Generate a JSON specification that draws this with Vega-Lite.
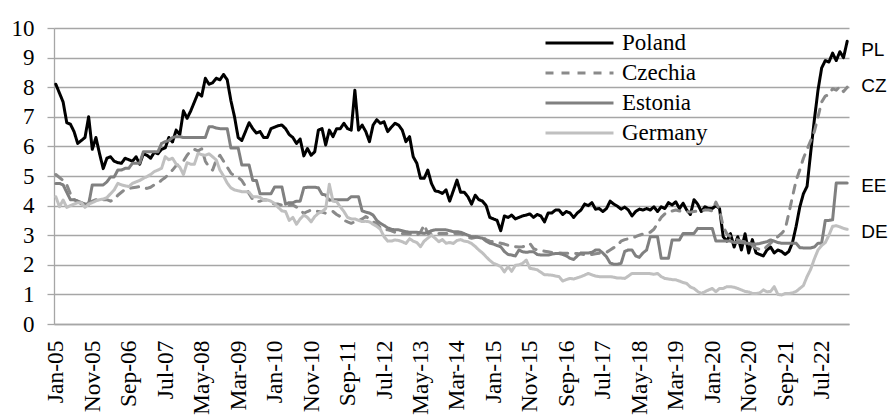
{
  "$schema": "https://vega.github.io/schema/vega-lite/v6.json",
  "width": 795,
  "height": 296,
  "autosize": {"type": "none"},
  "padding": {"left": 54, "top": 28, "right": 44, "bottom": 91},
  "background": "white",
  "config": {"view": {"stroke": null}, "font": "Liberation Serif"},
  "datasets": {
    "series": [
      {"d":"2005-01","Poland":8.1,"Czechia":5.05,"Estonia":4.75,"Germany":4.3},
      {"d":"2005-02","Poland":7.8,"Czechia":4.95,"Estonia":4.75,"Germany":3.96},
      {"d":"2005-03","Poland":7.5,"Czechia":4.85,"Estonia":4.7,"Germany":4.19},
      {"d":"2005-04","Poland":6.8,"Czechia":4.7,"Estonia":4.45,"Germany":3.94},
      {"d":"2005-05","Poland":6.75,"Czechia":4.4,"Estonia":4.2,"Germany":4.0},
      {"d":"2005-06","Poland":6.5,"Czechia":4.2,"Estonia":4.2,"Germany":4.05},
      {"d":"2005-07","Poland":6.1,"Czechia":4.15,"Estonia":4.15,"Germany":4.1},
      {"d":"2005-08","Poland":6.2,"Czechia":4.05,"Estonia":4.1,"Germany":4.1},
      {"d":"2005-09","Poland":6.3,"Czechia":4.05,"Estonia":4.05,"Germany":3.94},
      {"d":"2005-10","Poland":7.0,"Czechia":4.1,"Estonia":4.05,"Germany":4.05},
      {"d":"2005-11","Poland":5.9,"Czechia":4.15,"Estonia":4.7,"Germany":4.1},
      {"d":"2005-12","Poland":6.3,"Czechia":4.2,"Estonia":4.7,"Germany":4.16},
      {"d":"2006-01","Poland":5.75,"Czechia":4.15,"Estonia":4.7,"Germany":4.2},
      {"d":"2006-02","Poland":5.25,"Czechia":4.2,"Estonia":4.7,"Germany":4.22},
      {"d":"2006-03","Poland":5.6,"Czechia":4.2,"Estonia":4.8,"Germany":4.27},
      {"d":"2006-04","Poland":5.65,"Czechia":4.15,"Estonia":4.97,"Germany":4.4},
      {"d":"2006-05","Poland":5.5,"Czechia":4.2,"Estonia":4.97,"Germany":4.53},
      {"d":"2006-06","Poland":5.45,"Czechia":4.35,"Estonia":5.2,"Germany":4.75},
      {"d":"2006-07","Poland":5.43,"Czechia":4.45,"Estonia":5.2,"Germany":4.7},
      {"d":"2006-08","Poland":5.6,"Czechia":4.55,"Estonia":5.26,"Germany":4.67},
      {"d":"2006-09","Poland":5.55,"Czechia":4.58,"Estonia":5.26,"Germany":4.64},
      {"d":"2006-10","Poland":5.5,"Czechia":4.6,"Estonia":5.43,"Germany":4.75},
      {"d":"2006-11","Poland":5.65,"Czechia":4.62,"Estonia":5.43,"Germany":4.8},
      {"d":"2006-12","Poland":5.4,"Czechia":4.64,"Estonia":5.43,"Germany":4.85},
      {"d":"2007-01","Poland":5.75,"Czechia":4.6,"Estonia":5.82,"Germany":4.92},
      {"d":"2007-02","Poland":5.7,"Czechia":4.58,"Estonia":5.82,"Germany":4.98},
      {"d":"2007-03","Poland":5.6,"Czechia":4.62,"Estonia":5.82,"Germany":5.05},
      {"d":"2007-04","Poland":5.8,"Czechia":4.7,"Estonia":5.82,"Germany":5.15},
      {"d":"2007-05","Poland":5.75,"Czechia":4.75,"Estonia":5.82,"Germany":5.2},
      {"d":"2007-06","Poland":5.9,"Czechia":4.86,"Estonia":6.1,"Germany":5.26},
      {"d":"2007-07","Poland":5.95,"Czechia":4.95,"Estonia":6.16,"Germany":5.65},
      {"d":"2007-08","Poland":6.3,"Czechia":5.07,"Estonia":6.2,"Germany":5.55},
      {"d":"2007-09","Poland":6.15,"Czechia":5.2,"Estonia":6.3,"Germany":5.6},
      {"d":"2007-10","Poland":6.55,"Czechia":5.35,"Estonia":6.33,"Germany":5.4},
      {"d":"2007-11","Poland":6.4,"Czechia":5.4,"Estonia":6.33,"Germany":5.3},
      {"d":"2007-12","Poland":7.2,"Czechia":5.5,"Estonia":6.3,"Germany":5.05},
      {"d":"2008-01","Poland":6.95,"Czechia":5.7,"Estonia":6.3,"Germany":5.45},
      {"d":"2008-02","Poland":7.2,"Czechia":5.85,"Estonia":6.3,"Germany":5.4},
      {"d":"2008-03","Poland":7.5,"Czechia":5.9,"Estonia":6.3,"Germany":5.4},
      {"d":"2008-04","Poland":7.8,"Czechia":5.85,"Estonia":6.3,"Germany":5.77},
      {"d":"2008-05","Poland":7.7,"Czechia":5.92,"Estonia":6.3,"Germany":5.72},
      {"d":"2008-06","Poland":8.3,"Czechia":5.5,"Estonia":6.3,"Germany":5.7},
      {"d":"2008-07","Poland":8.1,"Czechia":5.3,"Estonia":6.66,"Germany":5.75},
      {"d":"2008-08","Poland":8.15,"Czechia":5.2,"Estonia":6.66,"Germany":5.65},
      {"d":"2008-09","Poland":8.3,"Czechia":5.54,"Estonia":6.62,"Germany":5.54},
      {"d":"2008-10","Poland":8.25,"Czechia":5.7,"Estonia":6.6,"Germany":5.2},
      {"d":"2008-11","Poland":8.43,"Czechia":5.5,"Estonia":6.6,"Germany":5.0},
      {"d":"2008-12","Poland":8.25,"Czechia":5.3,"Estonia":6.6,"Germany":4.76},
      {"d":"2009-01","Poland":7.55,"Czechia":5.1,"Estonia":5.95,"Germany":4.6},
      {"d":"2009-02","Poland":7.0,"Czechia":5.0,"Estonia":5.95,"Germany":4.53},
      {"d":"2009-03","Poland":6.3,"Czechia":4.95,"Estonia":5.95,"Germany":4.5},
      {"d":"2009-04","Poland":6.2,"Czechia":4.85,"Estonia":5.37,"Germany":4.47},
      {"d":"2009-05","Poland":6.5,"Czechia":4.65,"Estonia":5.37,"Germany":4.47},
      {"d":"2009-06","Poland":6.8,"Czechia":4.4,"Estonia":5.37,"Germany":4.45},
      {"d":"2009-07","Poland":6.6,"Czechia":4.2,"Estonia":4.85,"Germany":4.3},
      {"d":"2009-08","Poland":6.45,"Czechia":4.13,"Estonia":4.85,"Germany":4.3},
      {"d":"2009-09","Poland":6.5,"Czechia":4.15,"Estonia":4.4,"Germany":4.28},
      {"d":"2009-10","Poland":6.3,"Czechia":4.2,"Estonia":4.4,"Germany":4.19},
      {"d":"2009-11","Poland":6.3,"Czechia":4.19,"Estonia":4.4,"Germany":4.19},
      {"d":"2009-12","Poland":6.6,"Czechia":4.1,"Estonia":4.4,"Germany":4.15},
      {"d":"2010-01","Poland":6.65,"Czechia":4.05,"Estonia":4.63,"Germany":4.07},
      {"d":"2010-02","Poland":6.7,"Czechia":4.05,"Estonia":4.63,"Germany":3.94},
      {"d":"2010-03","Poland":6.72,"Czechia":4.02,"Estonia":4.63,"Germany":3.82},
      {"d":"2010-04","Poland":6.6,"Czechia":4.0,"Estonia":4.05,"Germany":3.8},
      {"d":"2010-05","Poland":6.4,"Czechia":4.0,"Estonia":4.1,"Germany":3.5},
      {"d":"2010-06","Poland":6.3,"Czechia":4.02,"Estonia":4.1,"Germany":3.6},
      {"d":"2010-07","Poland":6.1,"Czechia":3.95,"Estonia":4.15,"Germany":3.37},
      {"d":"2010-08","Poland":6.25,"Czechia":3.85,"Estonia":4.15,"Germany":3.55},
      {"d":"2010-09","Poland":5.68,"Czechia":3.74,"Estonia":4.6,"Germany":3.68},
      {"d":"2010-10","Poland":5.93,"Czechia":3.8,"Estonia":4.62,"Germany":3.6},
      {"d":"2010-11","Poland":5.7,"Czechia":3.85,"Estonia":4.62,"Germany":3.45},
      {"d":"2010-12","Poland":5.82,"Czechia":3.82,"Estonia":4.62,"Germany":3.63},
      {"d":"2011-01","Poland":6.55,"Czechia":3.8,"Estonia":4.6,"Germany":3.74},
      {"d":"2011-02","Poland":6.6,"Czechia":3.78,"Estonia":4.38,"Germany":3.8},
      {"d":"2011-03","Poland":6.05,"Czechia":3.74,"Estonia":4.36,"Germany":3.9},
      {"d":"2011-04","Poland":6.55,"Czechia":3.78,"Estonia":4.18,"Germany":4.72},
      {"d":"2011-05","Poland":6.33,"Czechia":3.8,"Estonia":4.2,"Germany":4.15},
      {"d":"2011-06","Poland":6.6,"Czechia":3.7,"Estonia":4.2,"Germany":4.13},
      {"d":"2011-07","Poland":6.6,"Czechia":3.63,"Estonia":4.2,"Germany":3.96},
      {"d":"2011-08","Poland":6.78,"Czechia":3.51,"Estonia":4.2,"Germany":3.8},
      {"d":"2011-09","Poland":6.6,"Czechia":3.45,"Estonia":4.2,"Germany":3.6},
      {"d":"2011-10","Poland":6.55,"Czechia":3.4,"Estonia":4.3,"Germany":3.55},
      {"d":"2011-11","Poland":7.9,"Czechia":3.46,"Estonia":4.3,"Germany":3.55},
      {"d":"2011-12","Poland":6.55,"Czechia":3.5,"Estonia":4.3,"Germany":3.5},
      {"d":"2012-01","Poland":6.72,"Czechia":3.55,"Estonia":3.82,"Germany":3.46},
      {"d":"2012-02","Poland":6.5,"Czechia":3.63,"Estonia":3.78,"Germany":3.47},
      {"d":"2012-03","Poland":6.16,"Czechia":3.55,"Estonia":3.75,"Germany":3.45},
      {"d":"2012-04","Poland":6.72,"Czechia":3.45,"Estonia":3.68,"Germany":3.37},
      {"d":"2012-05","Poland":6.9,"Czechia":3.4,"Estonia":3.5,"Germany":3.3},
      {"d":"2012-06","Poland":6.78,"Czechia":3.25,"Estonia":3.4,"Germany":3.2},
      {"d":"2012-07","Poland":6.83,"Czechia":3.18,"Estonia":3.33,"Germany":2.95},
      {"d":"2012-08","Poland":6.5,"Czechia":3.18,"Estonia":3.25,"Germany":2.8},
      {"d":"2012-09","Poland":6.65,"Czechia":3.15,"Estonia":3.2,"Germany":2.8},
      {"d":"2012-10","Poland":6.78,"Czechia":3.1,"Estonia":3.18,"Germany":2.84},
      {"d":"2012-11","Poland":6.72,"Czechia":3.06,"Estonia":3.18,"Germany":2.82},
      {"d":"2012-12","Poland":6.55,"Czechia":3.06,"Estonia":3.15,"Germany":2.78},
      {"d":"2013-01","Poland":6.16,"Czechia":3.06,"Estonia":3.12,"Germany":2.72},
      {"d":"2013-02","Poland":6.33,"Czechia":3.05,"Estonia":3.1,"Germany":2.88},
      {"d":"2013-03","Poland":5.65,"Czechia":3.02,"Estonia":3.1,"Germany":2.8},
      {"d":"2013-04","Poland":5.43,"Czechia":3.0,"Estonia":3.1,"Germany":2.75},
      {"d":"2013-05","Poland":4.92,"Czechia":3.1,"Estonia":3.08,"Germany":2.61},
      {"d":"2013-06","Poland":4.92,"Czechia":3.35,"Estonia":3.06,"Germany":2.8},
      {"d":"2013-07","Poland":5.2,"Czechia":3.06,"Estonia":3.1,"Germany":2.9},
      {"d":"2013-08","Poland":4.75,"Czechia":3.06,"Estonia":3.15,"Germany":3.0},
      {"d":"2013-09","Poland":4.5,"Czechia":3.06,"Estonia":3.18,"Germany":2.9},
      {"d":"2013-10","Poland":4.47,"Czechia":3.06,"Estonia":3.18,"Germany":2.78},
      {"d":"2013-11","Poland":4.41,"Czechia":3.06,"Estonia":3.18,"Germany":2.85},
      {"d":"2013-12","Poland":4.53,"Czechia":3.06,"Estonia":3.18,"Germany":2.73},
      {"d":"2014-01","Poland":4.15,"Czechia":3.06,"Estonia":3.15,"Germany":2.75},
      {"d":"2014-02","Poland":4.5,"Czechia":3.06,"Estonia":3.12,"Germany":2.72},
      {"d":"2014-03","Poland":4.86,"Czechia":3.06,"Estonia":3.12,"Germany":2.82},
      {"d":"2014-04","Poland":4.45,"Czechia":3.06,"Estonia":3.1,"Germany":2.85},
      {"d":"2014-05","Poland":4.45,"Czechia":3.0,"Estonia":3.05,"Germany":2.8},
      {"d":"2014-06","Poland":4.3,"Czechia":2.92,"Estonia":3.0,"Germany":2.78},
      {"d":"2014-07","Poland":4.05,"Czechia":2.9,"Estonia":2.95,"Germany":2.72},
      {"d":"2014-08","Poland":4.35,"Czechia":2.92,"Estonia":2.95,"Germany":2.62},
      {"d":"2014-09","Poland":4.2,"Czechia":2.95,"Estonia":2.92,"Germany":2.5},
      {"d":"2014-10","Poland":4.15,"Czechia":2.95,"Estonia":2.9,"Germany":2.4},
      {"d":"2014-11","Poland":4.0,"Czechia":2.85,"Estonia":2.8,"Germany":2.27},
      {"d":"2014-12","Poland":3.6,"Czechia":2.8,"Estonia":2.73,"Germany":2.15},
      {"d":"2015-01","Poland":3.55,"Czechia":2.78,"Estonia":2.7,"Germany":2.05},
      {"d":"2015-02","Poland":3.5,"Czechia":2.75,"Estonia":2.65,"Germany":2.0},
      {"d":"2015-03","Poland":3.15,"Czechia":2.73,"Estonia":2.61,"Germany":1.94},
      {"d":"2015-04","Poland":3.65,"Czechia":2.7,"Estonia":2.45,"Germany":1.76},
      {"d":"2015-05","Poland":3.6,"Czechia":2.66,"Estonia":2.35,"Germany":1.94},
      {"d":"2015-06","Poland":3.68,"Czechia":2.63,"Estonia":2.33,"Germany":1.78},
      {"d":"2015-07","Poland":3.55,"Czechia":2.61,"Estonia":2.3,"Germany":1.98},
      {"d":"2015-08","Poland":3.6,"Czechia":2.6,"Estonia":2.5,"Germany":2.0},
      {"d":"2015-09","Poland":3.65,"Czechia":2.61,"Estonia":2.44,"Germany":2.05},
      {"d":"2015-10","Poland":3.68,"Czechia":2.65,"Estonia":2.42,"Germany":2.16},
      {"d":"2015-11","Poland":3.72,"Czechia":2.72,"Estonia":2.44,"Germany":1.88},
      {"d":"2015-12","Poland":3.6,"Czechia":2.55,"Estonia":2.44,"Germany":1.86},
      {"d":"2016-01","Poland":3.7,"Czechia":2.5,"Estonia":2.35,"Germany":1.83},
      {"d":"2016-02","Poland":3.65,"Czechia":2.48,"Estonia":2.33,"Germany":1.75},
      {"d":"2016-03","Poland":3.45,"Czechia":2.46,"Estonia":2.33,"Germany":1.66},
      {"d":"2016-04","Poland":3.75,"Czechia":2.44,"Estonia":2.33,"Germany":1.66},
      {"d":"2016-05","Poland":3.75,"Czechia":2.42,"Estonia":2.36,"Germany":1.65},
      {"d":"2016-06","Poland":3.85,"Czechia":2.41,"Estonia":2.38,"Germany":1.62},
      {"d":"2016-07","Poland":3.85,"Czechia":2.4,"Estonia":2.38,"Germany":1.6},
      {"d":"2016-08","Poland":3.7,"Czechia":2.39,"Estonia":2.35,"Germany":1.45},
      {"d":"2016-09","Poland":3.8,"Czechia":2.39,"Estonia":2.3,"Germany":1.5},
      {"d":"2016-10","Poland":3.75,"Czechia":2.38,"Estonia":2.22,"Germany":1.54},
      {"d":"2016-11","Poland":3.6,"Czechia":2.39,"Estonia":2.18,"Germany":1.52},
      {"d":"2016-12","Poland":3.75,"Czechia":2.38,"Estonia":2.3,"Germany":1.56},
      {"d":"2017-01","Poland":3.85,"Czechia":2.36,"Estonia":2.4,"Germany":1.6},
      {"d":"2017-02","Poland":4.05,"Czechia":2.34,"Estonia":2.4,"Germany":1.65},
      {"d":"2017-03","Poland":4.0,"Czechia":2.33,"Estonia":2.4,"Germany":1.71},
      {"d":"2017-04","Poland":4.1,"Czechia":2.35,"Estonia":2.42,"Germany":1.66},
      {"d":"2017-05","Poland":3.88,"Czechia":2.37,"Estonia":2.5,"Germany":1.62},
      {"d":"2017-06","Poland":3.9,"Czechia":2.39,"Estonia":2.5,"Germany":1.6},
      {"d":"2017-07","Poland":3.8,"Czechia":2.4,"Estonia":2.4,"Germany":1.6},
      {"d":"2017-08","Poland":3.9,"Czechia":2.42,"Estonia":2.27,"Germany":1.6},
      {"d":"2017-09","Poland":4.15,"Czechia":2.5,"Estonia":2.06,"Germany":1.6},
      {"d":"2017-10","Poland":4.05,"Czechia":2.58,"Estonia":2.02,"Germany":1.58},
      {"d":"2017-11","Poland":3.98,"Czechia":2.65,"Estonia":2.02,"Germany":1.55},
      {"d":"2017-12","Poland":3.88,"Czechia":2.8,"Estonia":2.05,"Germany":1.55},
      {"d":"2018-01","Poland":3.95,"Czechia":2.85,"Estonia":2.45,"Germany":1.54},
      {"d":"2018-02","Poland":3.85,"Czechia":2.88,"Estonia":2.5,"Germany":1.62},
      {"d":"2018-03","Poland":3.65,"Czechia":2.92,"Estonia":2.5,"Germany":1.71},
      {"d":"2018-04","Poland":3.8,"Czechia":2.95,"Estonia":2.3,"Germany":1.71},
      {"d":"2018-05","Poland":3.88,"Czechia":3.0,"Estonia":2.25,"Germany":1.71},
      {"d":"2018-06","Poland":3.85,"Czechia":3.04,"Estonia":2.4,"Germany":1.71},
      {"d":"2018-07","Poland":3.9,"Czechia":3.07,"Estonia":2.5,"Germany":1.71},
      {"d":"2018-08","Poland":3.85,"Czechia":3.1,"Estonia":2.95,"Germany":1.7},
      {"d":"2018-09","Poland":3.96,"Czechia":3.2,"Estonia":2.95,"Germany":1.68},
      {"d":"2018-10","Poland":3.8,"Czechia":3.4,"Estonia":2.95,"Germany":1.71},
      {"d":"2018-11","Poland":3.96,"Czechia":3.6,"Estonia":2.22,"Germany":1.6},
      {"d":"2018-12","Poland":3.9,"Czechia":3.72,"Estonia":2.22,"Germany":1.54},
      {"d":"2019-01","Poland":4.1,"Czechia":3.8,"Estonia":2.22,"Germany":1.52},
      {"d":"2019-02","Poland":4.02,"Czechia":3.82,"Estonia":2.84,"Germany":1.5},
      {"d":"2019-03","Poland":4.13,"Czechia":3.85,"Estonia":2.84,"Germany":1.49},
      {"d":"2019-04","Poland":3.9,"Czechia":3.82,"Estonia":2.84,"Germany":1.45},
      {"d":"2019-05","Poland":4.08,"Czechia":3.8,"Estonia":3.06,"Germany":1.4},
      {"d":"2019-06","Poland":3.85,"Czechia":3.8,"Estonia":3.06,"Germany":1.37},
      {"d":"2019-07","Poland":3.7,"Czechia":3.78,"Estonia":3.06,"Germany":1.25},
      {"d":"2019-08","Poland":4.2,"Czechia":3.8,"Estonia":3.06,"Germany":1.2},
      {"d":"2019-09","Poland":4.05,"Czechia":3.82,"Estonia":3.23,"Germany":1.1},
      {"d":"2019-10","Poland":3.8,"Czechia":3.82,"Estonia":3.23,"Germany":1.03},
      {"d":"2019-11","Poland":3.96,"Czechia":3.85,"Estonia":3.23,"Germany":1.09},
      {"d":"2019-12","Poland":3.9,"Czechia":3.85,"Estonia":3.23,"Germany":1.15},
      {"d":"2020-01","Poland":3.9,"Czechia":3.82,"Estonia":3.23,"Germany":1.2},
      {"d":"2020-02","Poland":4.0,"Czechia":4.12,"Estonia":2.8,"Germany":1.09},
      {"d":"2020-03","Poland":3.9,"Czechia":3.85,"Estonia":2.8,"Germany":1.2},
      {"d":"2020-04","Poland":2.95,"Czechia":3.3,"Estonia":2.8,"Germany":1.2},
      {"d":"2020-05","Poland":2.8,"Czechia":3.05,"Estonia":2.8,"Germany":1.26},
      {"d":"2020-06","Poland":3.05,"Czechia":2.95,"Estonia":2.8,"Germany":1.26},
      {"d":"2020-07","Poland":2.6,"Czechia":2.88,"Estonia":2.75,"Germany":1.24},
      {"d":"2020-08","Poland":2.95,"Czechia":2.84,"Estonia":2.75,"Germany":1.2},
      {"d":"2020-09","Poland":2.5,"Czechia":2.8,"Estonia":2.75,"Germany":1.15},
      {"d":"2020-10","Poland":3.05,"Czechia":2.78,"Estonia":2.73,"Germany":1.1},
      {"d":"2020-11","Poland":2.4,"Czechia":2.73,"Estonia":2.73,"Germany":1.08},
      {"d":"2020-12","Poland":2.85,"Czechia":2.65,"Estonia":2.7,"Germany":1.03},
      {"d":"2021-01","Poland":2.4,"Czechia":2.56,"Estonia":2.7,"Germany":1.03},
      {"d":"2021-02","Poland":2.35,"Czechia":2.52,"Estonia":2.72,"Germany":1.05},
      {"d":"2021-03","Poland":2.3,"Czechia":2.5,"Estonia":2.75,"Germany":1.15},
      {"d":"2021-04","Poland":2.5,"Czechia":2.62,"Estonia":2.78,"Germany":1.09},
      {"d":"2021-05","Poland":2.6,"Czechia":2.73,"Estonia":2.84,"Germany":1.1},
      {"d":"2021-06","Poland":2.4,"Czechia":2.84,"Estonia":2.8,"Germany":1.26},
      {"d":"2021-07","Poland":2.5,"Czechia":2.95,"Estonia":2.75,"Germany":1.0},
      {"d":"2021-08","Poland":2.45,"Czechia":3.06,"Estonia":2.73,"Germany":0.98},
      {"d":"2021-09","Poland":2.35,"Czechia":3.2,"Estonia":2.73,"Germany":1.03},
      {"d":"2021-10","Poland":2.45,"Czechia":3.74,"Estonia":2.73,"Germany":1.03},
      {"d":"2021-11","Poland":2.75,"Czechia":4.3,"Estonia":2.73,"Germany":1.05},
      {"d":"2021-12","Poland":3.3,"Czechia":4.85,"Estonia":2.73,"Germany":1.1},
      {"d":"2022-01","Poland":3.95,"Czechia":5.2,"Estonia":2.58,"Germany":1.2},
      {"d":"2022-02","Poland":4.4,"Czechia":5.6,"Estonia":2.57,"Germany":1.3},
      {"d":"2022-03","Poland":4.65,"Czechia":5.9,"Estonia":2.57,"Germany":1.6},
      {"d":"2022-04","Poland":5.8,"Czechia":6.2,"Estonia":2.57,"Germany":1.85},
      {"d":"2022-05","Poland":6.9,"Czechia":6.5,"Estonia":2.6,"Germany":2.2},
      {"d":"2022-06","Poland":7.9,"Czechia":7.0,"Estonia":2.73,"Germany":2.5},
      {"d":"2022-07","Poland":8.65,"Czechia":7.5,"Estonia":2.73,"Germany":2.65},
      {"d":"2022-08","Poland":8.9,"Czechia":7.7,"Estonia":3.5,"Germany":2.75},
      {"d":"2022-09","Poland":8.85,"Czechia":7.75,"Estonia":3.5,"Germany":3.0},
      {"d":"2022-10","Poland":9.15,"Czechia":7.95,"Estonia":3.52,"Germany":3.3},
      {"d":"2022-11","Poland":8.9,"Czechia":7.9,"Estonia":4.76,"Germany":3.32},
      {"d":"2022-12","Poland":9.2,"Czechia":8.02,"Estonia":4.76,"Germany":3.28},
      {"d":"2023-01","Poland":9.0,"Czechia":7.85,"Estonia":4.76,"Germany":3.23},
      {"d":"2023-02","Poland":9.55,"Czechia":8.0,"Estonia":4.76,"Germany":3.2}
    ],
    "labels": [
      {"d":"2023-02","label":"PL","value":9.26},
      {"d":"2023-02","label":"CZ","value":8.04},
      {"d":"2023-02","label":"EE","value":4.66},
      {"d":"2023-02","label":"DE","value":3.1}
    ]
  },
  "encoding": {
    "x": {
      "field": "d", "type": "ordinal",
      "scale": {"type": "point", "padding": 0.5},
      "axis": {
        "title": null, "grid": false, "ticks": false, "tickSize": 0,
        "values": ["2005-01","2005-11","2006-09","2007-07","2008-05","2009-03","2010-01","2010-11","2011-09","2012-07","2013-05","2014-03","2015-01","2015-11","2016-09","2017-07","2018-05","2019-03","2020-01","2020-11","2021-09","2022-07"],
        "labelExpr": "['Jan','Feb','Mar','Apr','May','Jun','Jul','Aug','Sep','Oct','Nov','Dec'][toNumber(slice(datum.value, 5, 7)) - 1] + '-' + slice(datum.value, 2, 4)",
        "labelAngle": -90, "labelFont": "Liberation Serif", "labelFontSize": 23.5, "labelColor": "#000000",
        "labelPadding": 16, "labelOverlap": false, "labelFlush": false, "labelBound": false,
        "domainColor": "#a6a6a6", "domainWidth": 1.3
      }
    },
    "y": {
      "field": "value", "type": "quantitative",
      "scale": {"domain": [0, 10], "nice": false},
      "axis": {
        "title": null, "values": [0, 1, 2, 3, 4, 5, 6, 7, 8, 9, 10], "labelOverlap": false,
        "grid": true, "gridColor": "#a6a6a6", "gridWidth": 1.3,
        "domainColor": "#a6a6a6", "domainWidth": 1.3,
        "tickColor": "#a6a6a6", "tickSize": 7, "tickWidth": 1.3,
        "labelFont": "Liberation Serif", "labelFontSize": 23, "labelColor": "#000000", "labelPadding": 13
      }
    }
  },
  "layer": [
    {
      "data": {"name": "series"},
      "transform": [{"fold": ["Poland", "Czechia", "Estonia", "Germany"], "as": ["country", "value"]}],
      "mark": {"type": "line", "strokeWidth": 3, "strokeCap": "round", "strokeJoin": "round"},
      "encoding": {
        "color": {
          "field": "country", "type": "nominal",
          "scale": {"domain": ["Poland", "Czechia", "Estonia", "Germany"], "range": ["#000000", "#8a8a8a", "#808080", "#c0c0c0"]},
          "legend": {
            "title": null, "orient": "none", "legendX": 490, "legendY": 0,
            "symbolType": "stroke", "symbolSize": 4624, "symbolStrokeWidth": 3,
            "labelFont": "Liberation Serif", "labelFontSize": 23, "labelColor": "#000000", "labelOffset": 7,
            "clipHeight": 30, "rowPadding": 0
          }
        },
        "strokeDash": {
          "field": "country", "type": "nominal",
          "scale": {"domain": ["Poland", "Czechia", "Estonia", "Germany"], "range": [[1, 0], [8, 8], [1, 0], [1, 0]]},
          "legend": {
            "title": null, "orient": "none", "legendX": 490, "legendY": 0,
            "symbolType": "stroke", "symbolSize": 4624, "symbolStrokeWidth": 3,
            "labelFont": "Liberation Serif", "labelFontSize": 23, "labelColor": "#000000", "labelOffset": 7,
            "clipHeight": 30, "rowPadding": 0
          }
        }
      }
    },
    {
      "data": {"name": "labels"},
      "mark": {"type": "text", "align": "left", "baseline": "middle", "dx": 14, "font": "Liberation Sans", "fontSize": 19, "color": "#000000"},
      "encoding": {
        "text": {"field": "label"}
      }
    }
  ]
}
